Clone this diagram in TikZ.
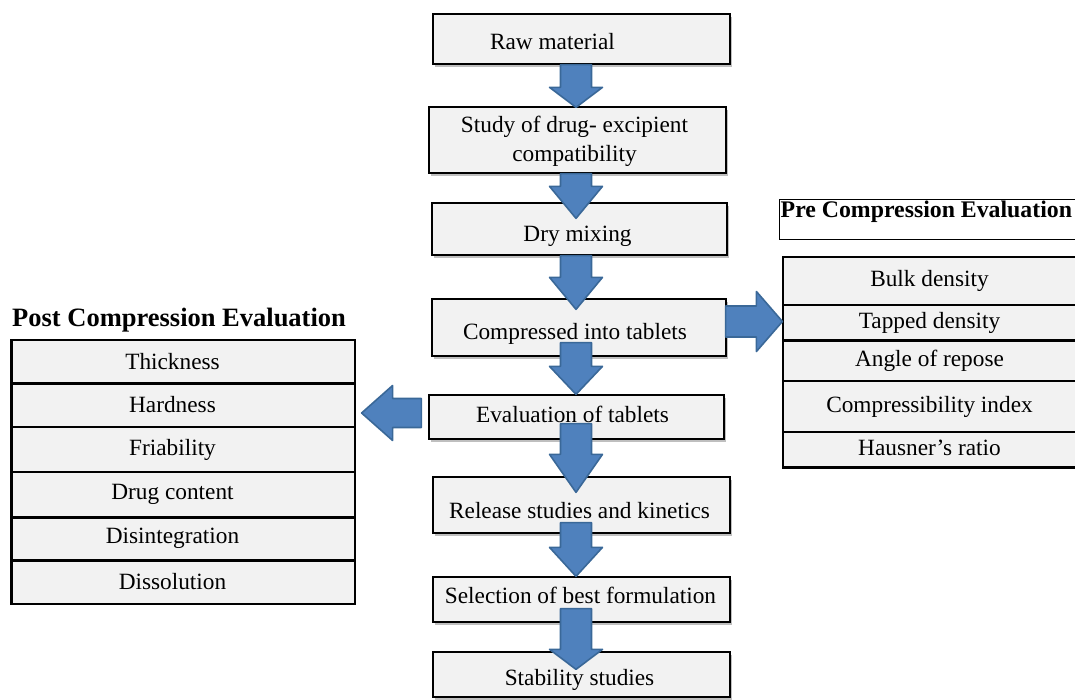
\documentclass[tikz,border=0pt]{standalone}
\usepackage{fontspec}
\setmainfont{Liberation Serif}
\usetikzlibrary{calc,shadows}
\definecolor{boxgray}{HTML}{F2F2F2}
\definecolor{arrfill}{HTML}{4F81BD}
\definecolor{arredge}{HTML}{3A6898}
\newcommand\downarr[3]{\path[fatarrow] let \p1=#1,\p2=#2 in
  ({\x2-15.5pt},\y1) -- ({\x2+15.5pt},\y1) -- ({\x2+15.5pt},{\y2+#3}) -- ({\x2+26.5pt},{\y2+#3})
  -- (\x2,\y2) -- ({\x2-26.5pt},{\y2+#3}) -- ({\x2-15.5pt},{\y2+#3}) -- cycle;}
\newcommand\sidearr[5]{\path[fatarrow] let \p1=#1,\p2=#2 in
  (\x1,{\y2+#4}) -- ({\x2+#3},{\y2+#4}) -- ({\x2+#3},{\y2+#5}) -- (\x2,\y2)
  -- ({\x2+#3},{\y2-#5}) -- ({\x2+#3},{\y2-#4}) -- (\x1,{\y2-#4}) -- cycle;}
\begin{document}
\begin{tikzpicture}[x=1pt,y=-1pt,
  mainbox/.style={draw=black, line width=1.3pt, fill=boxgray, inner sep=0pt,
    general shadow={fill=black!25, shadow xshift=2pt, shadow yshift=-3pt}},
  boxtext/.style={inner sep=0pt, font=\fontsize{23.3}{29}\selectfont, align=center},
  rowbox/.style={draw=black, line width=1.2pt, fill=boxgray, inner sep=1pt,
    font=\fontsize{23.3}{26}\selectfont},
  fatarrow/.style={fill=arrfill, draw=arredge, line width=1.6pt, line join=round},
  thickline/.style={line width=2.6pt}]
\useasboundingbox (0,0) rectangle (1075,700);

% main column boxes
\node[mainbox, minimum width=297pt, minimum height=50pt] (raw) at (581.5,39) {};
\node[mainbox, minimum width=297pt, minimum height=66pt] (study) at (577.5,140) {};
\node[mainbox, minimum width=295pt, minimum height=52pt] (dry) at (579.5,229) {};
\node[mainbox, minimum width=294pt, minimum height=57pt] (comp) at (579,327.5) {};
\node[mainbox, minimum width=295pt, minimum height=44pt] (eval) at (576.5,417) {};
\node[mainbox, minimum width=297pt, minimum height=56pt] (release) at (581.5,505) {};
\node[mainbox, minimum width=297pt, minimum height=45pt] (select) at (581.5,599.5) {};
\node[mainbox, minimum width=297pt, minimum height=45pt] (stab) at (581.5,674.5) {};

% pre compression
\node[draw=black, line width=1.3pt, fill=white, minimum width=300pt, minimum height=40pt, anchor=north west, inner sep=0pt] (prehead) at (779,199) {};
\node[font=\fontsize{23.8}{27}\selectfont\bfseries, anchor=west, inner sep=1pt] (pretitle) at (779.5,212) {Pre Compression Evaluation};
\node[rowbox, minimum width=293pt, minimum height=48pt] (bulk) at (929.5,281) {Bulk density};
\node[rowbox, minimum width=293pt, minimum height=35pt] (tapped) at (929.5,322.5) {Tapped density};
\node[rowbox, minimum width=293pt, minimum height=41pt] (angle) at (929.5,360.5) {\raisebox{2pt}{Angle of repose}};
\node[rowbox, minimum width=293pt, minimum height=51pt] (compress) at (929.5,406.5) {Compressibility index};
\node[rowbox, minimum width=293pt, minimum height=35pt] (hausner) at (929.5,449.5) {\raisebox{3pt}{Hausner’s ratio}};
\draw[thickline] (tapped.south west) -- (tapped.south east);
\draw[thickline] (hausner.south west) -- (hausner.south east);

% post compression
\node[font=\fontsize{26.5}{30}\selectfont\bfseries, anchor=west, inner sep=0pt] (posttitle) at (12,320) {Post Compression Evaluation};
\node[rowbox, minimum width=343pt, minimum height=43pt] (thick) at (183.5,361.5) {Thickness\hspace*{22pt}};
\node[rowbox, minimum width=343pt, minimum height=44pt] (hard) at (183.5,405) {Hardness\hspace*{22pt}};
\node[rowbox, minimum width=343pt, minimum height=45pt] (fri) at (183.5,449.5) {Friability\hspace*{22pt}};
\node[rowbox, minimum width=343pt, minimum height=45pt] (drug) at (183.5,494.5) {Drug content\hspace*{22pt}};
\node[rowbox, minimum width=343pt, minimum height=43pt] (disint) at (183.5,538.5) {Disintegration\hspace*{22pt}};
\node[rowbox, minimum width=343pt, minimum height=44pt] (dissol) at (183.5,582) {Dissolution\hspace*{22pt}};
\draw[thickline] (thick.south west) -- (thick.south east);
\draw[thickline] (drug.south west) -- (drug.south east);
\draw[thickline] (disint.south west) -- (disint.south east);
\draw[thickline] (thick.north west) -- (dissol.south west);

% vertical arrows
\downarr{($(raw.south)+(-5.5,0)$)}{($(study.north)+(-1.5,1)$)}{20pt}
\downarr{(study.south)}{($(dry.north)+(-3.5,16)$)}{32pt}
\downarr{(dry.south)}{($(comp.north)+(-3,11)$)}{32pt}
\downarr{($(comp.south)+(0,-14)$)}{($(eval.north)+(-0.5,0)$)}{28pt}
\downarr{($(eval.south)+(0,-16)$)}{($(release.north)+(-5.5,16)$)}{38pt}
\downarr{($(release.south)+(0,-11)$)}{($(select.north)+(-5.5,0)$)}{29pt}
\downarr{($(select.south)+(0,-14)$)}{($(stab.north)+(-5.5,18)$)}{20pt}

% side arrows
\coordinate (rs) at ($(comp.east)+(-1,-6)$);
\coordinate (rt) at (rs -| tapped.west);
\sidearr{(rs)}{(rt)}{(-26pt)}{15.5pt}{30pt}
\coordinate (ls) at ($(eval.west)+(-7,-4)$);
\coordinate (lt) at ($(ls -| hard.east)+(6,0)$);
\sidearr{(ls)}{(lt)}{(31pt)}{14.5pt}{27.5pt}

% main column texts (on top of arrows)
\node[boxtext] (rawtxt) at ($(raw)+(-29,3)$) {Raw material};
\node[boxtext] (studytxt) at ($(study)+(-3,1)$) {Study of drug- excipient\\compatibility};
\node[boxtext] (drytxt) at ($(dry)+(-2,7)$) {Dry mixing};
\node[boxtext] (comptxt) at ($(comp)+(-4,6)$) {Compressed into tablets};
\node[boxtext] (evaltxt) at ($(eval)+(-4,-3)$) {Evaluation of tablets};
\node[boxtext] (releasetxt) at ($(release)+(-2,6)$) {Release studies and kinetics};
\node[boxtext] (selecttxt) at ($(select)+(-1,-4)$) {Selection of best formulation};
\node[boxtext] (stabtxt) at ($(stab)+(-2,5)$) {Stability studies};
\end{tikzpicture}
\end{document}
